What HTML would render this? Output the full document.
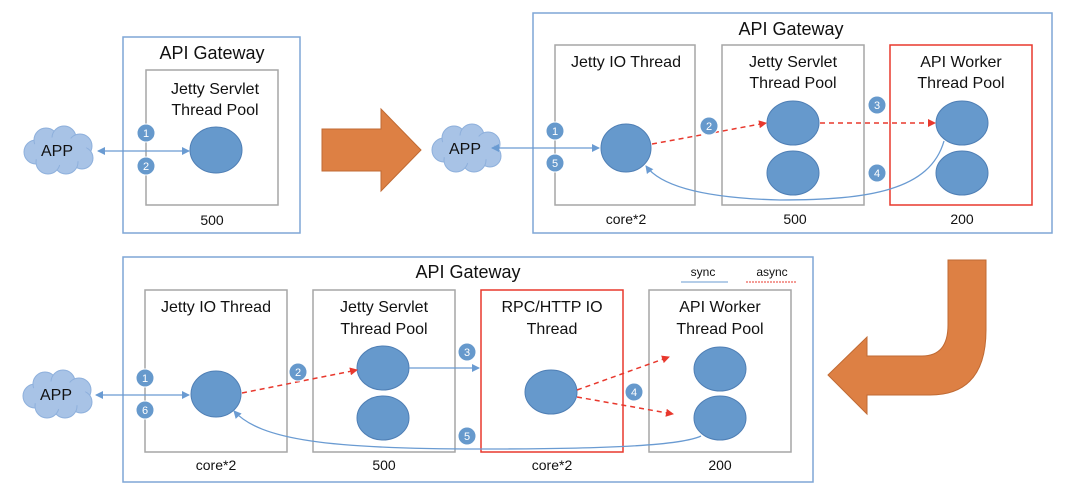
<!DOCTYPE html>
<html><head><meta charset="utf-8"><style>
html,body{margin:0;padding:0;background:#fff;width:1080px;height:497px;overflow:hidden}
svg text{font-family:"Liberation Sans",sans-serif;fill:#111}
</style></head><body>
<svg width="1080" height="497" viewBox="0 0 1080 497" xmlns="http://www.w3.org/2000/svg">
<defs>
<marker id="ab" markerWidth="8" markerHeight="8" refX="7" refY="4" orient="auto-start-reverse" markerUnits="userSpaceOnUse"><path d="M0,0 L8,4 L0,8 z" fill="#6a9bd2"/></marker>
<marker id="ar" markerWidth="8" markerHeight="8" refX="7" refY="4" orient="auto" markerUnits="userSpaceOnUse"><path d="M0,0 L8,4 L0,8 z" fill="#e8382d"/></marker>
<g id="cloud">
<g fill="#a8c3e6" stroke="#8eb0dc" stroke-width="1">
<circle cx="-22" cy="2" r="12"/><circle cx="-12" cy="-10" r="12"/><circle cx="6" cy="-12" r="12"/><circle cx="22" cy="-4" r="12"/><circle cx="24" cy="8" r="11"/><circle cx="8" cy="12" r="12"/><circle cx="-10" cy="12" r="12"/>
</g>
<ellipse cx="1" cy="1" rx="28" ry="14" fill="#a8c3e6"/>
</g>
</defs>
<style>
.ob{fill:none;stroke:#7fa6d6;stroke-width:1.5}
.gb{fill:none;stroke:#a6a6a6;stroke-width:1.5}
.rb{fill:none;stroke:#e8382d;stroke-width:1.5}
.c{fill:#6699cc;stroke:#4f7fb5;stroke-width:1}
.bd{fill:#6699cc;stroke:#fff;stroke-width:1}
.bt{font-size:11px;fill:#fff !important;text-anchor:middle}
.t{font-size:16px;text-anchor:middle}
.tt{font-size:18px;text-anchor:middle}
.n{font-size:14px;text-anchor:middle}
.bl{stroke:#6a9bd2;stroke-width:1.3;fill:none}
.rd{stroke:#e8382d;stroke-width:1.5;fill:none;stroke-dasharray:5,4}
</style>

<!-- Top-left -->
<rect class="ob" x="123" y="37" width="177" height="196"/>
<text class="tt" x="212" y="59">API Gateway</text>
<rect class="gb" x="146" y="70" width="132" height="135"/>
<text class="t" x="215" y="94">Jetty Servlet</text>
<text class="t" x="215" y="115">Thread Pool</text>
<ellipse class="c" cx="216" cy="150" rx="26" ry="23"/>
<use href="#cloud" x="58" y="150"/>
<text class="t" x="57" y="156" font-size="15">APP</text>
<line class="bl" x1="98" y1="151" x2="189" y2="151" marker-start="url(#ab)" marker-end="url(#ab)"/>
<circle class="bd" cx="146" cy="133" r="9"/><text class="bt" x="146" y="137">1</text>
<circle class="bd" cx="146" cy="166" r="9"/><text class="bt" x="146" y="170">2</text>
<text class="n" x="212" y="225">500</text>

<!-- orange right arrow -->
<path d="M322,129 L381,129 L381,109 L421,150 L381,191 L381,171 L322,171 Z" fill="#dd8044" stroke="#c06a33" stroke-width="1"/>

<!-- Top-right -->
<rect class="ob" x="533" y="13" width="519" height="220"/>
<text class="tt" x="791" y="35">API Gateway</text>
<rect class="gb" x="555" y="45" width="140" height="160"/>
<rect class="gb" x="722" y="45" width="142" height="160"/>
<rect class="rb" x="890" y="45" width="142" height="160"/>
<text class="t" x="626" y="67">Jetty IO Thread</text>
<text class="t" x="793" y="67">Jetty Servlet</text>
<text class="t" x="793" y="88">Thread Pool</text>
<text class="t" x="961" y="67">API Worker</text>
<text class="t" x="961" y="88">Thread Pool</text>
<ellipse class="c" cx="626" cy="148" rx="25" ry="24"/>
<ellipse class="c" cx="793" cy="123" rx="26" ry="22"/>
<ellipse class="c" cx="793" cy="173" rx="26" ry="22"/>
<ellipse class="c" cx="962" cy="123" rx="26" ry="22"/>
<ellipse class="c" cx="962" cy="173" rx="26" ry="22"/>
<use href="#cloud" x="466" y="148"/>
<text class="t" x="465" y="154" font-size="15">APP</text>
<line class="bl" x1="492" y1="148" x2="599" y2="148" marker-start="url(#ab)" marker-end="url(#ab)"/>
<line class="rd" x1="652" y1="144" x2="766" y2="123" marker-end="url(#ar)"/>
<line class="rd" x1="820" y1="123" x2="935" y2="123" marker-end="url(#ar)"/>
<path class="bl" d="M944,141 C930,190 870,200 780,200 C700,198 660,185 646,166" marker-end="url(#ab)"/>
<circle class="bd" cx="555" cy="131" r="9"/><text class="bt" x="555" y="135">1</text>
<circle class="bd" cx="555" cy="163" r="9"/><text class="bt" x="555" y="167">5</text>
<circle class="bd" cx="709" cy="126" r="9"/><text class="bt" x="709" y="130">2</text>
<circle class="bd" cx="877" cy="105" r="9"/><text class="bt" x="877" y="109">3</text>
<circle class="bd" cx="877" cy="173" r="9"/><text class="bt" x="877" y="177">4</text>
<text class="n" x="626" y="224">core*2</text>
<text class="n" x="795" y="224">500</text>
<text class="n" x="962" y="224">200</text>

<!-- orange J arrow -->
<path d="M948,260 L986,260 L986,330 Q986,395 930,395 L867,395 L867,414 L828,375 L867,337 L867,356 L922,356 Q948,356 948,325 Z" fill="#dd8044" stroke="#c06a33" stroke-width="1"/>

<!-- Bottom -->
<rect class="ob" x="123" y="257" width="690" height="225"/>
<text class="tt" x="468" y="278">API Gateway</text>
<text x="703" y="276" font-size="12" text-anchor="middle">sync</text>
<line x1="681" y1="282" x2="728" y2="282" stroke="#6a9bd2" stroke-width="1"/>
<text x="772" y="276" font-size="12" text-anchor="middle">async</text>
<line x1="746" y1="282" x2="797" y2="282" stroke="#e8382d" stroke-width="1" stroke-dasharray="2,1"/>
<rect class="gb" x="145" y="290" width="142" height="162"/>
<rect class="gb" x="313" y="290" width="142" height="162"/>
<rect class="rb" x="481" y="290" width="142" height="162"/>
<rect class="gb" x="649" y="290" width="142" height="162"/>
<text class="t" x="216" y="312">Jetty IO Thread</text>
<text class="t" x="384" y="312">Jetty Servlet</text>
<text class="t" x="384" y="334">Thread Pool</text>
<text class="t" x="552" y="312">RPC/HTTP IO</text>
<text class="t" x="552" y="334">Thread</text>
<text class="t" x="720" y="312">API Worker</text>
<text class="t" x="720" y="334">Thread Pool</text>
<ellipse class="c" cx="216" cy="394" rx="25" ry="23"/>
<ellipse class="c" cx="383" cy="368" rx="26" ry="22"/>
<ellipse class="c" cx="383" cy="418" rx="26" ry="22"/>
<ellipse class="c" cx="551" cy="392" rx="26" ry="22"/>
<ellipse class="c" cx="720" cy="369" rx="26" ry="22"/>
<ellipse class="c" cx="720" cy="418" rx="26" ry="22"/>
<use href="#cloud" x="57" y="394"/>
<text class="t" x="56" y="400" font-size="15">APP</text>
<line class="bl" x1="96" y1="395" x2="189" y2="395" marker-start="url(#ab)" marker-end="url(#ab)"/>
<line class="rd" x1="242" y1="393" x2="357" y2="370" marker-end="url(#ar)"/>
<line class="bl" x1="409" y1="368" x2="479" y2="368" marker-end="url(#ab)"/>
<line class="rd" x1="577" y1="390" x2="669" y2="357" marker-end="url(#ar)"/>
<line class="rd" x1="577" y1="397" x2="673" y2="414" marker-end="url(#ar)"/>
<path class="bl" d="M701,436 C680,446 600,449 480,449 C330,449 260,440 234,411" marker-end="url(#ab)"/>
<circle class="bd" cx="145" cy="378" r="9"/><text class="bt" x="145" y="382">1</text>
<circle class="bd" cx="145" cy="410" r="9"/><text class="bt" x="145" y="414">6</text>
<circle class="bd" cx="298" cy="372" r="9"/><text class="bt" x="298" y="376">2</text>
<circle class="bd" cx="467" cy="352" r="9"/><text class="bt" x="467" y="356">3</text>
<circle class="bd" cx="634" cy="392" r="9"/><text class="bt" x="634" y="396">4</text>
<circle class="bd" cx="467" cy="436" r="9"/><text class="bt" x="467" y="440">5</text>
<text class="n" x="216" y="470">core*2</text>
<text class="n" x="384" y="470">500</text>
<text class="n" x="552" y="470">core*2</text>
<text class="n" x="720" y="470">200</text>
</svg>
</body></html>
